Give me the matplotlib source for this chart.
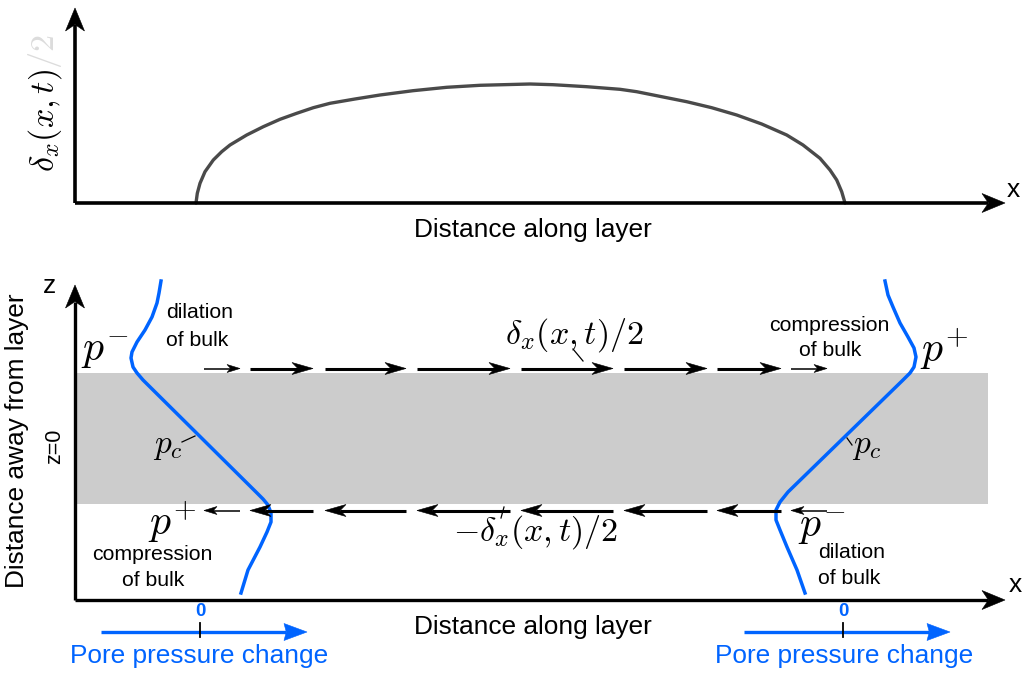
import numpy as np
import matplotlib
matplotlib.use("Agg")
import matplotlib.pyplot as plt
from matplotlib.patches import Polygon, Rectangle

plt.rcParams['font.family'] = ['Liberation Sans', 'DejaVu Sans']
plt.rcParams['mathtext.fontset'] = 'cm'

# ---- data -------------------------------------------------------------
# Half-slip profile along the layer (top panel); 1 unit = 100 px
slip_distance = [1.21, 1.223, 1.25, 1.30, 1.383, 1.467, 1.55, 1.717, 1.883,
                 2.05, 2.217, 2.383, 2.55, 2.80, 3.05, 3.38, 3.717, 4.05,
                 4.55, 4.78, 5.117, 5.45, 5.617, 5.867, 6.117, 6.367, 6.617,
                 6.867, 7.117, 7.28, 7.45, 7.55, 7.617, 7.667, 7.70]
slip_half = [0.0, 0.097, 0.197, 0.313, 0.43, 0.513, 0.58, 0.68, 0.763,
             0.837, 0.897, 0.953, 0.997, 1.04, 1.08, 1.123, 1.157, 1.177,
             1.19, 1.183, 1.163, 1.137, 1.113, 1.063, 1.013, 0.953, 0.88,
             0.79, 0.68, 0.58, 0.447, 0.33, 0.23, 0.113, 0.0]

# Displacement arrows on the two faces of the layer (bottom panel)
arrow_start = [1.29, 1.75, 2.50, 3.42, 4.46, 5.49, 6.42, 7.16]
arrow_length = [0.36, 0.63, 0.81, 0.93, 0.92, 0.83, 0.64, 0.36]

# Layer half-thickness and panel extents
layer_half = 0.655
layer_end = 9.13
axis_len = 9.30
top_axis_height = 1.95
z_bottom = -1.615
z_top = 1.535
z_scale = -1.935

# Pore-pressure change profiles across the layer (left and right ends)
p_zero_left = 1.25
p_zero_right = 7.68
left_z = [1.575, 1.455, 1.355, 1.215, 1.085, 0.965, 0.865, 0.805, 0.715,
          0.655, 0.585, -0.545, -0.605, -0.665, -0.745, -0.835, -0.935,
          -1.085, -1.315, -1.545]
left_dp = [-0.39, -0.41, -0.43, -0.48, -0.55, -0.63, -0.68, -0.69, -0.67,
           -0.63, -0.57, 0.57, 0.63, 0.68, 0.71, 0.71, 0.67, 0.60, 0.48, 0.41]
right_z = [1.575, 1.435, 1.315, 1.155, 1.015, 0.905, 0.815, 0.715, 0.655,
           0.585, -0.535, -0.635, -0.715, -0.815, -0.915, -1.085, -1.315,
           -1.545]
right_dp = [0.42, 0.45, 0.50, 0.57, 0.65, 0.71, 0.73, 0.71, 0.67, 0.60,
            -0.55, -0.63, -0.67, -0.67, -0.63, -0.56, -0.46, -0.38]

BLUE = '#0064ff'
GREY = '#cccccc'
W, H = 1024, 673

fig = plt.figure(figsize=(W / 100, H / 100), dpi=100)

# Both panels share the full canvas; data units are 100 px each way
ax_top = fig.add_axes([0, 0, 1, 1])
ax_top.set_xlim(-0.75, 9.49)
ax_top.set_ylim(-4.70, 2.03)
ax_top.axis('off')

ax_bot = fig.add_axes([0, 0, 1, 1])
ax_bot.set_xlim(-0.75, 9.49)
ax_bot.set_ylim(-2.345, 4.385)
ax_bot.axis('off')
ax_bot.patch.set_alpha(0)


def arrow(ax, x0, y0, x1, y1, lw, hl, hw, color, notch=0.28, z=4):
    d = np.array([x1 - x0, y1 - y0], dtype=float)
    u = d / np.hypot(*d)
    n = np.array([-u[1], u[0]])
    tip = np.array([x1, y1], dtype=float)
    back = tip - u * hl
    inner = tip - u * hl * (1 - notch)
    ax.plot([x0, inner[0]], [y0, inner[1]], color=color, lw=lw,
            solid_capstyle='butt', zorder=z)
    ax.add_patch(Polygon([tip, back + n * hw / 2, inner, back - n * hw / 2],
                         closed=True, facecolor=color, edgecolor=color,
                         lw=0.4, zorder=z))


def T(x, y, s, **kw):
    return fig.text(x / W, 1 - y / H, s, **kw)


# ---- top panel: slip profile -----------------------------------------
ax_top.plot(slip_distance, slip_half, color='#4a4a4a', lw=2.4, zorder=3,
            solid_capstyle='round', solid_joinstyle='round')
arrow(ax_top, 0, 0, axis_len, 0, 2.6, 0.23, 0.19, 'black')
arrow(ax_top, 0, 0, 0, top_axis_height, 2.6, 0.23, 0.19, 'black')

T(1013, 190, 'x', fontsize=19, ha='center', va='center')
T(533, 230, 'Distance along layer', fontsize=18.9, ha='center', va='center')

lab = T(45, 172, r'$\delta_x(x,t)$', fontsize=24.5, rotation=90,
        ha='center', va='bottom')
fig.canvas.draw()
bb = lab.get_window_extent()
fig.text(45 / W, bb.y1 / H, r'$/2$', fontsize=24.5, rotation=90,
         ha='center', va='bottom', color='#dcdcdc')

# ---- bottom panel: layer, displacements, pore pressure ----------------
ax_bot.add_patch(Rectangle((0, -layer_half), layer_end, 2 * layer_half,
                           facecolor=GREY, edgecolor='none', zorder=1))

ax_bot.plot(np.add(p_zero_left, left_dp), left_z, color=BLUE, lw=2.5,
            zorder=3, solid_joinstyle='round')
ax_bot.plot(np.add(p_zero_right, right_dp), right_z, color=BLUE, lw=2.5,
            zorder=3, solid_joinstyle='round')

y_up = layer_half + 0.045
y_dn = -layer_half - 0.065
for x0, ln in zip(arrow_start, arrow_length):
    thin = ln < 0.5
    lw = 1.1 if thin else 2.2
    hl = 0.13 if thin else 0.21
    hw = 0.08 if thin else 0.12
    arrow(ax_bot, x0, y_up, x0 + ln, y_up, lw, hl, hw, 'black')
    arrow(ax_bot, x0 + ln, y_dn, x0, y_dn, lw, hl, hw, 'black')

arrow(ax_bot, 0, z_bottom, axis_len, z_bottom, 2.4, 0.23, 0.19, 'black')
arrow(ax_bot, 0, z_bottom, 0, z_top, 2.4, 0.23, 0.19, 'black')

# pore pressure change scales
for p0 in (p_zero_left, p_zero_right):
    arrow(ax_bot, p0 - 0.99, z_scale, p0 + 1.07, z_scale, 2.4, 0.23, 0.17,
          BLUE, notch=0.1)
    ax_bot.plot([p0, p0], [z_scale + 0.09, z_scale - 0.05], color='black',
                lw=1.3, zorder=5)

T(200, 612, '0', fontsize=13.5, fontweight='bold', color=BLUE,
  ha='center', va='center')
T(843, 612, '0', fontsize=13.5, fontweight='bold', color=BLUE,
  ha='center', va='center')
T(199, 656, 'Pore pressure change', fontsize=18.9, color=BLUE,
  ha='center', va='center')
T(844, 656, 'Pore pressure change', fontsize=18.9, color=BLUE,
  ha='center', va='center')

T(533, 627, 'Distance along layer', fontsize=18.9, ha='center', va='center')
T(1015, 585, 'x', fontsize=19, ha='center', va='center')
T(50, 286, 'z', fontsize=19, ha='center', va='center')
T(17, 441, 'Distance away from layer', fontsize=18.9, rotation=90,
  ha='center', va='center')
T(55, 446, 'z=0', fontsize=15.5, rotation=90, ha='center', va='center')

# annotations
T(166, 313, 'dilation', fontsize=15.3, ha='left', va='center')
T(166, 340, 'of bulk', fontsize=15.3, ha='left', va='center')
T(829, 325, 'compression', fontsize=15.3, ha='center', va='center')
T(830, 350, 'of bulk', fontsize=15.3, ha='center', va='center')
T(152, 554, 'compression', fontsize=15.3, ha='center', va='center')
T(153, 580, 'of bulk', fontsize=15.3, ha='center', va='center')
T(818, 553, 'dilation', fontsize=15.3, ha='left', va='center')
T(818, 579, 'of bulk', fontsize=15.3, ha='left', va='center')

T(105, 352, r'$p^{-}$', fontsize=30, ha='center', va='center')
T(944, 349, r'$p^{+}$', fontsize=30, ha='center', va='center')
T(172, 522, r'$p^{+}$', fontsize=30, ha='center', va='center')
T(822, 528, r'$p^{-}$', fontsize=30, ha='center', va='center')
T(168, 446, r'$p_c$', fontsize=24, ha='center', va='center')
T(867, 446, r'$p_c$', fontsize=24, ha='center', va='center')
T(574, 335, r'$\delta_x(x,t)/2$', fontsize=24.5, ha='center', va='center')
T(536, 532, r'$-\delta_x(x,t)/2$', fontsize=24.5, ha='center', va='center')

# leader lines
for (xa, ya), (xb, yb) in [((573, 349), (583, 361)), ((504, 507), (501, 518)),
                           ((182, 442), (195, 436)), ((847, 438), (852, 445))]:
    fig.add_artist(plt.Line2D([xa / W, xb / W], [1 - ya / H, 1 - yb / H],
                              color='black', lw=0.9, zorder=6))

fig.savefig('out.png', dpi=100)
